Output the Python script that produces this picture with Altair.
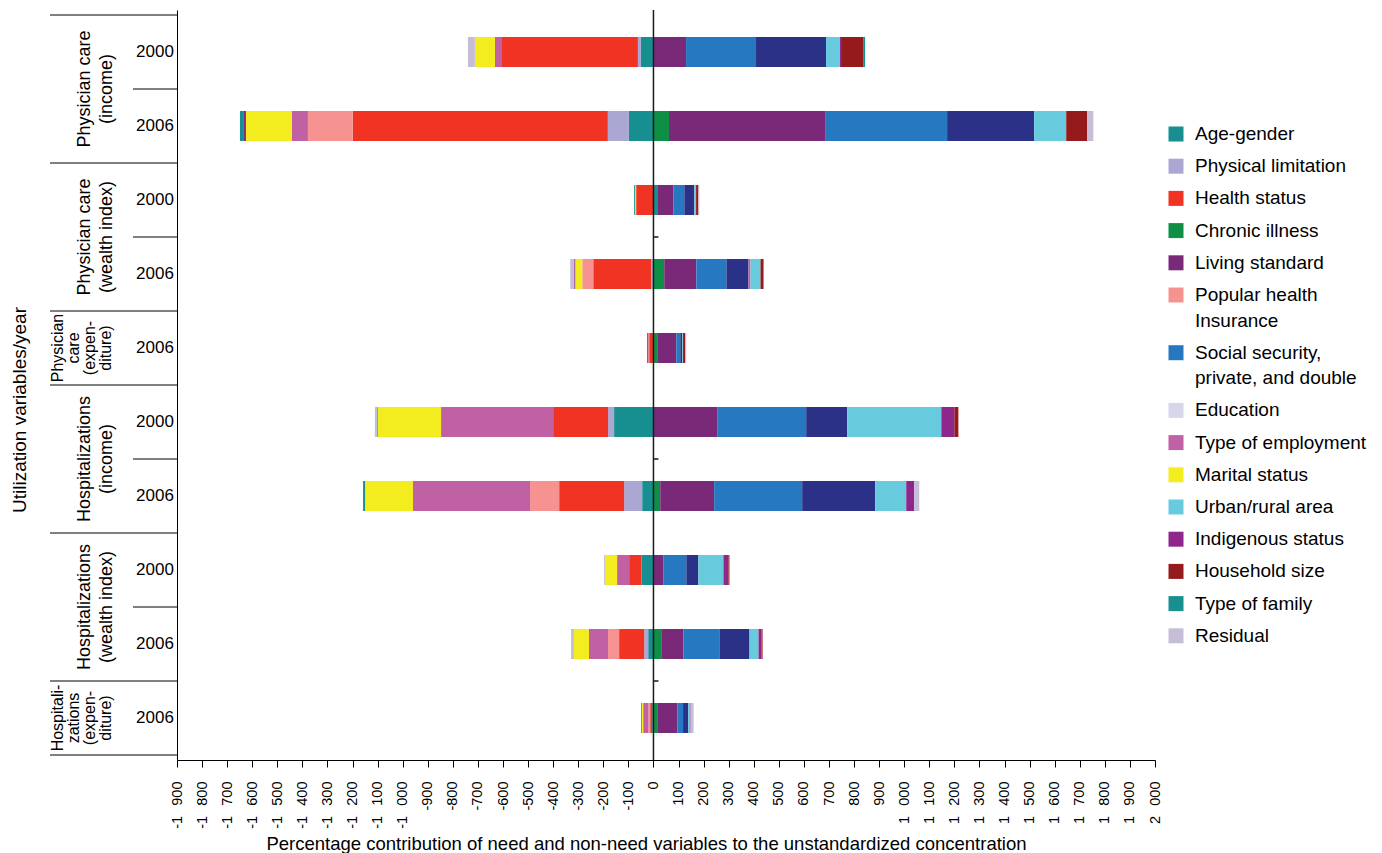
import altair as alt
import pandas as pd

# Decomposition categories, in stacking order (nearest zero first)
categories = [
    "Age-gender", "Physical limitation", "Health status", "Chronic illness",
    "Living standard", "Popular health Insurance",
    "Social security, private, and double", "Education", "Type of employment",
    "Marital status", "Urban/rural area", "Indigenous status", "Household size",
    "Type of family", "Residual",
]
legend_lines = [
    ["Age-gender"], ["Physical limitation"], ["Health status"], ["Chronic illness"],
    ["Living standard"], ["Popular health", "Insurance"],
    ["Social security,", "private, and double"], ["Education"], ["Type of employment"],
    ["Marital status"], ["Urban/rural area"], ["Indigenous status"], ["Household size"],
    ["Type of family"], ["Residual"],
]
bar_colors = [
    "#178F91", "#AAA8D2", "#F03323", "#0F8F45", "#7A2878", "#F69290", "#2679C0",
    "#2A3186", "#BF61A3", "#F3EC1F", "#68CBDD", "#8E268C", "#951A1C", "#17908F", "#C5BED6",
]
swatch_colors = [
    "#178F91", "#AAA8D2", "#F03323", "#0F8F45", "#7A2878", "#F69290", "#2679C0",
    "#D8D6EA", "#BF61A3", "#F3EC1F", "#68CBDD", "#8E268C", "#951A1C", "#17908F", "#C5BED6",
]

# Rows, top to bottom
row_year = ["2000", "2006", "2000", "2006", "2006", "2000", "2006", "2000", "2006", "2006"]
row_group = [0, 0, 1, 1, 2, 3, 3, 4, 4, 5]
group_lines = [
    ["Physician care", "(income)"],
    ["Physician care", "(wealth index)"],
    ["Physician", "care", "(expen-", "diture)"],
    ["Hospitalizations", "(income)"],
    ["Hospitalizations", "(wealth index)"],
    ["Hospitali-", "zations", "(expen-", "diture)"],
]

# Percentage contributions per category, one value per row
age_gender = [-50, -98, 15, 0, 0, -157, -45, -48, -21, -5]
physical_limitation = [-12, -84, 0, -9, 0, -24, -72, 0, -16, 0]
health_status = [-542, -1017, -69, -231, -17, -219, -259, -49, -100, -8]
chronic_illness = [0, 62, 0, 43, 15, 0, 27, 0, 31, 15]
living_standard = [130, 625, 64, 128, 76, 254, 215, 39, 88, 80]
popular_insurance = [0, -179, 0, -44, -4, 0, -116, 0, -44, -7]
social_security = [279, 484, 44, 120, 16, 355, 351, 92, 144, 23]
education = [279, 347, 40, 88, 8, 164, 291, 48, 120, 20]
type_of_employment = [-28, -64, 0, 8, 0, -447, -467, -48, -76, -21]
marital_status = [-80, -183, -4, -28, 0, -253, -191, -48, -60, -5]
urban_rural = [56, 128, 7, 40, 3, 375, 124, 100, 36, 7]
indigenous_status = [4, -8, 0, -4, -4, 52, 32, 20, 12, 3]
household_size = [88, 84, 9, 12, 9, 16, 0, 4, 4, 0]
type_of_family = [8, -16, -4, 0, 0, -4, -8, 0, 0, -3]
residual = [-28, 24, 4, -16, 4, -7, 20, -4, -12, 12]

series = [
    age_gender, physical_limitation, health_status, chronic_illness, living_standard,
    popular_insurance, social_security, education, type_of_employment, marital_status,
    urban_rural, indigenous_status, household_size, type_of_family, residual,
]

x_ticks = list(range(-1900, 2001, 100))

FONT = "Liberation Sans"
NARROW = "Liberation Sans Narrow, Liberation Sans, Arial, sans-serif"

# ---- tables -------------------------------------------------------------
records = []
for idx, (cat, vals) in enumerate(zip(categories, series)):
    for row, v in enumerate(vals):
        if v != 0:
            records.append({"category": cat, "idx": idx, "row": row, "value": v})
bars_df = pd.DataFrame(records)

years_df = pd.DataFrame({"row": list(range(len(row_year))), "year": row_year})

group_rows = {}
for r, g in enumerate(row_group):
    group_rows.setdefault(g, []).append(r)
groups_df = pd.DataFrame({
    "row": [sum(group_rows[g]) / len(group_rows[g]) for g in range(len(group_lines))],
    "lines": group_lines,
    "n": [len(l) for l in group_lines],
})

# boundaries between groups (long rules) and between years within a group (short rules)
group_bounds = [-0.5] + [max(group_rows[g]) + 0.5 for g in range(len(group_lines))]
inner_bounds = [r + 0.5 for g in group_rows for r in group_rows[g][:-1]]
zero_ticks = [2.5, 5.5, 8.5]

# legend layout (pixels, relative to plot origin)
leg_rows = []
extra = 0
for i, (lines, sw) in enumerate(zip(legend_lines, swatch_colors)):
    y0 = 124 + 32.2 * i + 25.5 * extra
    for k, line in enumerate(lines):
        leg_rows.append({"ly": y0 + 25.5 * k, "label": line, "first": k == 0, "swatch": sw})
    extra += len(lines) - 1
legend_df = pd.DataFrame(leg_rows)

# ---- scales / axes ------------------------------------------------------
xscale = alt.Scale(domain=[-1900, 2000], nice=False, zero=False)
yscale = alt.Scale(domain=[-0.5, 9.5], reverse=True, nice=False, zero=False)

# thousands separated by a wide space, hyphen as minus sign
label_expr = ("replace(replace(format(datum.value, ','), ',', '\u2002\u2009'), '\u2212', '-')")

xaxis = alt.Axis(
    values=x_ticks, labelAngle=-90, labelExpr=label_expr, labelFlush=False,
    labelOverlap=False, tickSize=7, tickColor="black", domainColor="black",
    labelPadding=14, labelFontSize=14.5, labelFont=NARROW, labelColor="black",
    grid=False,
    title="Percentage contribution of need and non-need variables to the unstandardized concentration",
    titleFont=FONT, titleFontSize=18.5, titleFontWeight="normal", titleColor="black",
    titleX=469, titleY=89, titleBaseline="alphabetic", titleAlign="center",
)
yaxis = alt.Axis(labels=False, ticks=False, grid=False, title=None,
                 domainColor="black", domainWidth=1)

bars = alt.Chart(bars_df).mark_bar(orient="horizontal", size=30).encode(
    x=alt.X("value:Q", stack="zero", scale=xscale, axis=xaxis),
    y=alt.Y("row:Q", scale=yscale, axis=yaxis),
    color=alt.Color("category:N", scale=alt.Scale(domain=categories, range=bar_colors),
                    legend=None),
    order=alt.Order("idx:Q", sort="ascending"),
)

zero_line = alt.Chart(pd.DataFrame({"value": [0]})).mark_rule(
    color="#1a1a1a", strokeWidth=1.5
).encode(x=alt.X("value:Q", scale=xscale, axis=xaxis))

zero_marks = alt.Chart(pd.DataFrame({"row": zero_ticks, "value": 0, "end": 20})).mark_rule(
    color="#1a1a1a", strokeWidth=1.5
).encode(
    y=alt.Y("row:Q", scale=yscale, axis=yaxis),
    x=alt.X("value:Q", scale=xscale, axis=xaxis), x2="end:Q",
)

group_rules = alt.Chart(pd.DataFrame({"row": group_bounds})).mark_rule(
    color="black", strokeWidth=1
).encode(
    y=alt.Y("row:Q", scale=yscale, axis=yaxis),
    x=alt.value(-127), x2=alt.value(0),
)

inner_rules = alt.Chart(pd.DataFrame({"row": inner_bounds})).mark_rule(
    color="black", strokeWidth=1
).encode(
    y=alt.Y("row:Q", scale=yscale, axis=yaxis),
    x=alt.value(-44), x2=alt.value(0),
)

year_text = alt.Chart(years_df).mark_text(
    align="center", baseline="middle", font=FONT, fontSize=17, color="black"
).encode(
    y=alt.Y("row:Q", scale=yscale, axis=yaxis),
    x=alt.value(-22),
    text="year:N",
)

group_text_two = alt.Chart(groups_df).transform_filter("datum.n == 2").mark_text(
    angle=270, align="center", baseline="middle", font=FONT, fontSize=18,
    lineHeight=22, color="black"
).encode(
    y=alt.Y("row:Q", scale=yscale, axis=yaxis),
    x=alt.value(-92),
    text="lines:N",
)

group_text_four = alt.Chart(groups_df).transform_filter("datum.n == 4").mark_text(
    angle=270, align="center", baseline="middle", font=FONT, fontSize=16,
    lineHeight=16, color="black"
).encode(
    y=alt.Y("row:Q", scale=yscale, axis=yaxis),
    x=alt.value(-119),
    text="lines:N",
)

y_title = alt.Chart(pd.DataFrame({"t": ["Utilization variables/year"]})).mark_text(
    angle=270, align="center", baseline="middle", font=FONT, fontSize=19, color="black"
).encode(x=alt.value(-157), y=alt.value(400), text="t:N")

legend_swatches = alt.Chart(legend_df).transform_filter("datum.first").mark_square(
    size=225, opacity=1
).encode(
    x=alt.value(999),
    y=alt.Y("ly:Q", scale=None),
    color=alt.Color("swatch:N", scale=None, legend=None),
)

legend_text = alt.Chart(legend_df).mark_text(
    align="left", baseline="middle", font=FONT, fontSize=19, color="black"
).encode(
    x=alt.value(1018),
    y=alt.Y("ly:Q", scale=None),
    text="label:N",
)

chart = alt.layer(
    bars, zero_line, zero_marks, group_rules, inner_rules, year_text,
    group_text_two, group_text_four, y_title, legend_swatches, legend_text,
).properties(
    width=978, height=750,
    autosize=alt.AutoSizeParams(type="none"),
    padding={"left": 177, "top": 10, "right": 227, "bottom": 93},
    background="white",
).configure_view(stroke=None)

chart.save("out.html", embed_options={"renderer": "svg", "actions": False})
